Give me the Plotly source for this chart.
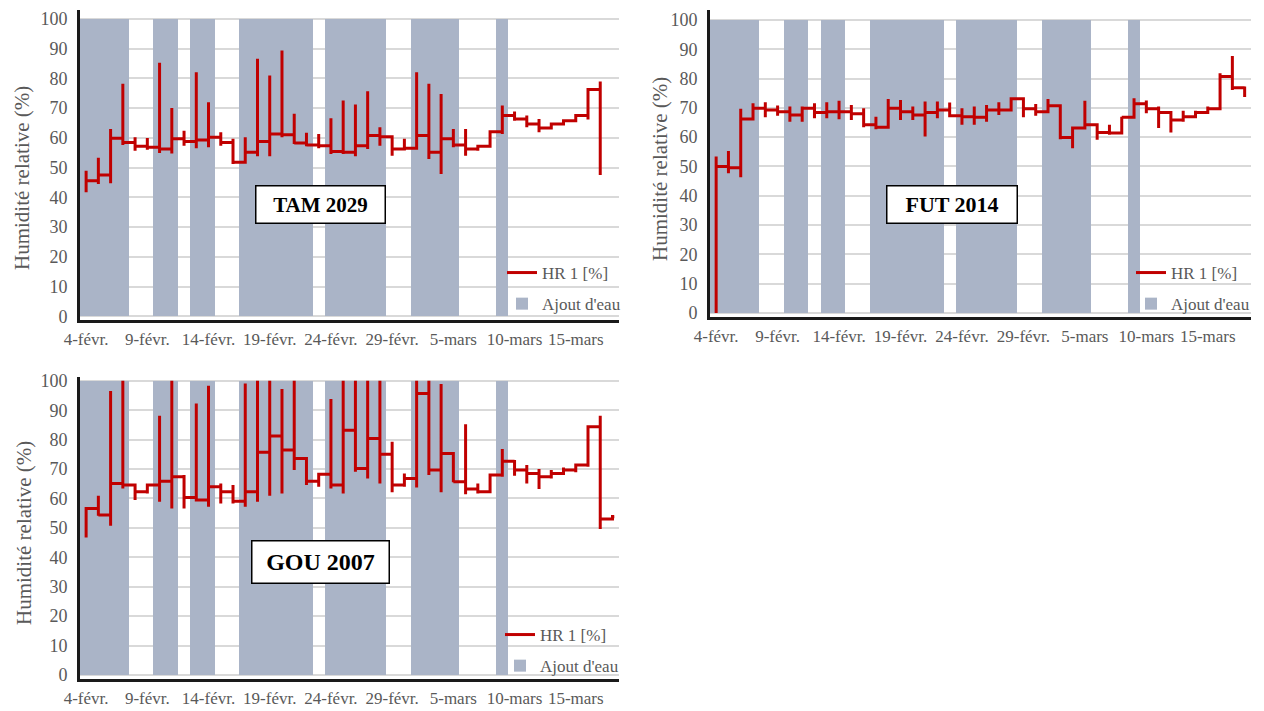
import plotly.graph_objects as go

# ---------------- data ----------------
tick_days = [0, 5, 10, 15, 20, 25, 30, 35, 40]
tick_labels = ["4-févr.", "9-févr.", "14-févr.", "19-févr.", "24-févr.",
               "29-févr.", "5-mars", "10-mars", "15-mars"]
y_ticks = [0, 10, 20, 30, 40, 50, 60, 70, 80, 90, 100]

# days (index from 4 Feb) with water added -> full-height column at 100 %
water_days = [0, 1, 2, 3, 6, 7, 9, 10, 13, 14, 15, 16, 17, 18,
              20, 21, 22, 23, 24, 27, 28, 29, 30, 34]
water_level = [100] * len(water_days)

# TAM 2029 : per-day spike max, spike min and level held until next day
tam_hi = [49.0, 53.3, 63.0, 78.2, 60.2, 60.0, 85.3, 70.1, 62.4, 82.1, 72.0,
          61.9, 59.7, 60.2, 86.6, 81.0, 89.4, 68.1, 61.7, 61.3, 66.6, 72.6,
          71.2, 75.7, 63.6, 60.2, 59.7, 82.1, 78.2, 74.8, 63.0, 63.0, 56.9,
          62.5, 70.9, 68.9, 67.5, 66.4, 64.7, 65.8, 67.5, 76.5, 79.0]
tam_lo = [41.7, 44.5, 44.8, 57.6, 55.7, 56.0, 54.9, 54.8, 57.4, 56.5, 56.9,
          57.4, 51.2, 51.8, 53.8, 53.8, 60.2, 58.0, 57.2, 56.5, 54.6, 54.6,
          53.8, 56.3, 57.4, 54.0, 56.0, 56.3, 52.9, 47.9, 56.9, 54.0, 55.7,
          57.0, 61.3, 65.8, 63.6, 61.9, 63.3, 64.7, 65.8, 66.2, 47.5]
tam_lev = [45.6, 47.5, 59.9, 58.5, 57.2, 56.9, 56.3, 59.7, 58.8, 59.3, 60.2,
           58.5, 51.8, 55.2, 58.8, 61.3, 61.1, 58.3, 57.6, 57.4, 55.4, 55.2,
           57.4, 60.8, 60.4, 56.3, 56.5, 60.8, 55.2, 59.7, 57.6, 56.3, 57.2,
           62.1, 67.5, 66.4, 64.7, 63.3, 64.7, 65.8, 67.5, 76.3, 47.5]
tam_end = 42

# FUT 2014
fut_hi = [53.4, 55.3, 69.7, 71.6, 71.9, 70.8, 70.5, 70.5, 71.6, 71.9, 72.4,
          71.0, 69.9, 67.0, 73.0, 72.7, 70.5, 72.2, 72.2, 71.8, 69.9, 70.5,
          71.0, 71.9, 73.5, 73.0, 71.3, 73.0, 70.7, 62.5, 72.4, 63.4, 64.2,
          67.0, 73.3, 72.5, 70.5, 68.4, 69.0, 69.0, 70.5, 81.8, 87.7, 77.3]
fut_lo = [0.0, 47.7, 46.3, 65.9, 66.8, 67.3, 65.3, 65.3, 66.5, 66.5, 66.1,
          65.9, 63.4, 62.7, 63.4, 65.9, 65.9, 60.2, 66.5, 66.8, 64.2, 64.2,
          65.3, 67.6, 69.0, 66.8, 67.3, 68.2, 59.3, 56.2, 63.1, 59.1, 60.8,
          61.4, 66.5, 68.2, 63.1, 61.6, 65.3, 67.3, 68.4, 69.3, 76.1, 73.7]
fut_lev = [50.0, 49.6, 66.2, 69.9, 69.3, 68.7, 67.6, 69.9, 68.4, 68.7, 68.7,
           68.0, 64.2, 63.4, 69.9, 68.7, 67.6, 68.4, 69.3, 67.3, 67.0, 66.8,
           69.3, 69.3, 73.1, 69.7, 68.7, 70.7, 59.9, 63.1, 64.2, 61.6, 61.4,
           66.8, 71.4, 69.7, 68.4, 65.9, 67.0, 68.4, 69.7, 80.7, 76.9, 73.7]
fut_end = 43

# GOU 2007
gou_hi = [56.6, 60.9, 96.5, 100, 64.6, 64.6, 88.1, 100, 68.0, 92.3, 98.3,
          65.1, 64.6, 99.1, 100, 100, 97.2, 100, 73.6, 68.5, 93.8, 100,
          100, 100, 100, 79.3, 68.5, 100, 100, 98.9, 71.4, 85.2, 65.1,
          68.0, 76.8, 73.1, 71.4, 70.0, 69.7, 70.5, 71.4, 84.4, 88.1, 54.4]
gou_lo = [46.7, 54.1, 50.7, 63.4, 59.5, 61.7, 58.9, 56.6, 56.6, 59.5, 57.2,
          58.3, 58.3, 57.2, 58.9, 60.9, 61.7, 69.7, 64.6, 64.0, 63.4, 61.7,
          69.1, 66.8, 65.1, 62.1, 64.0, 63.7, 68.0, 62.1, 65.5, 61.4, 61.7,
          62.3, 67.4, 67.7, 65.1, 63.2, 66.8, 68.2, 68.9, 70.8, 49.6, 53.0]
gou_lev = [56.6, 54.4, 65.1, 64.6, 62.3, 64.6, 65.9, 67.4, 60.3, 59.5, 64.0,
           62.3, 59.1, 62.3, 75.7, 81.2, 76.5, 73.6, 65.9, 68.2, 64.6, 83.2,
           70.2, 80.4, 75.0, 64.6, 66.8, 95.7, 69.7, 75.3, 65.7, 63.2, 62.3,
           68.0, 72.7, 69.7, 68.5, 67.4, 68.5, 69.7, 71.4, 84.4, 53.0, 53.8]
gou_end = 43.15

panel_names = ["TAM 2029", "FUT 2014", "GOU 2007"]
series_name = "HR 1 [%]"
bar_name = "Ajout d'eau"
y_title = "Humidité relative (%)"

# ---------------- styling ----------------
W, H = 1264, 711
RED = "#C00000"
BAR = "#AAB4C7"
GRAY_TXT = "#595959"
SERIF = "Liberation Serif, Times New Roman, serif"


def step_path(hi, lo, lev, x_end):
    xs, ys = [], []
    for d in range(len(hi)):
        if d > 0:
            xs.append(d)
            ys.append(lev[d - 1])
        xs += [d, d, d]
        ys += [hi[d], lo[d], lev[d]]
    xs.append(x_end)
    ys.append(lev[-1])
    return xs, ys


def fx(p):
    return p / W


def fy(p):
    return 1 - p / H


fig = go.Figure()

panels = [
    dict(hi=tam_hi, lo=tam_lo, lev=tam_lev, end=tam_end,
         xd=(80, 618.6), yd=(10, 320), yr=(-1.2, 103.0), leg="legend", ax=""),
    dict(hi=fut_hi, lo=fut_lo, lev=fut_lev, end=fut_end,
         xd=(710, 1250.8), yd=(10, 317), yr=(-1.37, 103.4), leg="legend2", ax="2"),
    dict(hi=gou_hi, lo=gou_lo, lev=gou_lev, end=gou_end,
         xd=(80, 618.6), yd=(376.7, 678.5), yr=(-1.19, 101.4), leg="legend3", ax="3"),
]

for i, p in enumerate(panels):
    xa = "x" + p["ax"]
    ya = "y" + p["ax"]
    fig.add_trace(go.Bar(
        x=water_days, y=water_level, width=1.0, name=bar_name,
        marker=dict(color=BAR, line=dict(width=0)),
        xaxis=xa, yaxis=ya, legend=p["leg"], legendrank=2,
        legendgroup="b%d" % i, hoverinfo="skip"))
    xs, ys = step_path(p["hi"], p["lo"], p["lev"], p["end"])
    fig.add_trace(go.Scatter(
        x=xs, y=ys, mode="lines", name=series_name,
        line=dict(color=RED, width=3),
        xaxis=xa, yaxis=ya, legend=p["leg"], legendrank=1,
        legendgroup="l%d" % i))

    xkey = "xaxis" + p["ax"]
    ykey = "yaxis" + p["ax"]
    fig.layout[xkey] = dict(
        domain=[fx(p["xd"][0]), fx(p["xd"][1])], range=[-0.5, 43.5],
        anchor=ya, tickmode="array", tickvals=tick_days, ticktext=tick_labels,
        showgrid=False, zeroline=False, showline=True, linecolor="#1a1a1a",
        linewidth=3, ticks="", automargin=False, ticklabelstandoff=2,
        tickfont=dict(family=SERIF, size=17, color=GRAY_TXT),
        fixedrange=True)
    fig.layout[ykey] = dict(
        domain=[fy(p["yd"][1]), fy(p["yd"][0])], range=list(p["yr"]),
        anchor=xa, tickmode="array", tickvals=y_ticks,
        showgrid=True, gridcolor="#D9D9D9", gridwidth=1.5, zeroline=False,
        showline=True, linecolor="#1a1a1a", linewidth=3, ticks="",
        automargin=False, ticklabelstandoff=6,
        tickfont=dict(family=SERIF, size=18, color=GRAY_TXT), fixedrange=True)

legend_style = dict(font=dict(family=SERIF, size=17, color=GRAY_TXT),
                    bgcolor="rgba(0,0,0,0)", borderwidth=0,
                    xanchor="left", yanchor="top", tracegroupgap=6,
                    orientation="v")
fig.update_layout(
    legend=dict(x=fx(502), y=fy(255), **legend_style),
    legend2=dict(x=fx(1131), y=fy(255), **legend_style),
    legend3=dict(x=fx(500), y=fy(617), **legend_style),
)

annotations = []
for (cx, cy) in [(22, 178), (660, 169), (24, 533)]:
    annotations.append(dict(
        text=y_title, x=fx(cx), y=fy(cy), xref="paper", yref="paper",
        showarrow=False, textangle=-90, xanchor="center", yanchor="middle",
        font=dict(family=SERIF, size=21, color=GRAY_TXT)))
for name, (cx, cy), (w, h), fs in zip(
        panel_names,
        [(320, 204), (951.5, 204), (320, 561.5)],
        [(126, 34), (127, 34), (134, 39)],
        [21, 22, 24]):
    annotations.append(dict(
        text="<b>%s</b>" % name, x=fx(cx), y=fy(cy), xref="paper", yref="paper",
        showarrow=False, xanchor="center", yanchor="middle",
        width=w, height=h, align="center", valign="middle",
        bgcolor="white", bordercolor="black", borderwidth=1.5, borderpad=1,
        font=dict(family=SERIF, size=fs, color="black")))

fig.update_layout(
    width=W, height=H,
    margin=dict(l=0, r=0, t=0, b=0, autoexpand=False),
    paper_bgcolor="white", plot_bgcolor="white",
    bargap=0, barmode="overlay", showlegend=True,
    annotations=annotations,
)

fig.write_html(
    "out.html",
    config={"displayModeBar": False},
    post_script="document.body.style.margin='0';"
                "document.body.style.overflow='hidden';")
